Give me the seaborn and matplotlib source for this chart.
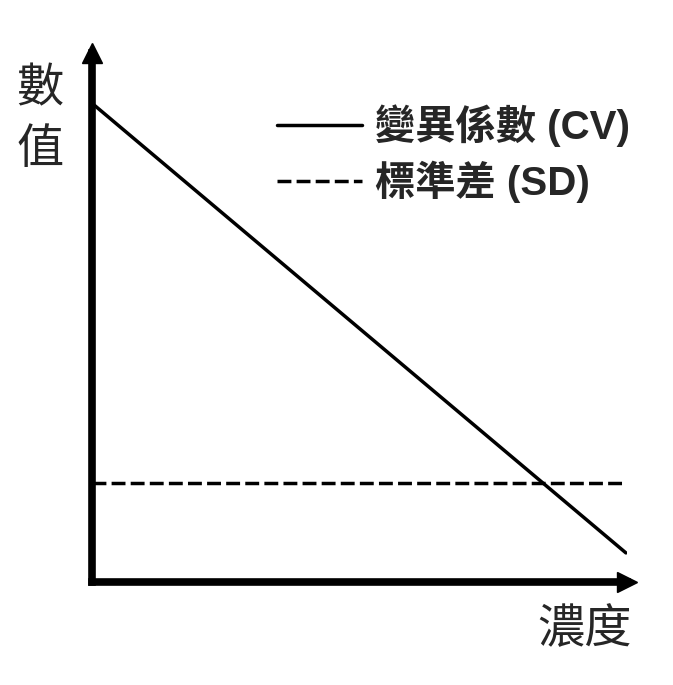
import numpy as np
import pandas as pd
import seaborn as sns
import matplotlib.pyplot as plt

# 資料
concentration = [0.0, 9.98]
cv_values = [9.05, 0.55]
sd_values = [1.87, 1.87]
series_names = ["變異係數 (CV)", "標準差 (SD)"]
x_label = "濃度"
y_label = "數值"

sns.set_theme(style="white")
plt.rcParams['font.family'] = ['Liberation Sans', 'Noto Sans CJK TC', 'DejaVu Sans']

df = pd.DataFrame({
    "conc": concentration * 2,
    "value": cv_values + sd_values,
    "series": [series_names[0]] * 2 + [series_names[1]] * 2,
})

fig = plt.figure(figsize=(6.73, 6.85), dpi=100)
ax = fig.add_axes([92 / 673, (685 - 582) / 685, (627 - 92) / 673, (582 - 53) / 685])

sns.lineplot(data=df, x="conc", y="value", hue="series", style="series",
             palette=["black", "black"], dashes=[(), (4.0, 1.5)], linewidth=2.5, ax=ax)

ax.set_xlim(0, 10)
ax.set_ylim(0, 10)
ax.set_xticks([])
ax.set_yticks([])
ax.set_xlabel("")
ax.set_ylabel("")
for s in ["top", "right"]:
    ax.spines[s].set_visible(False)
for s in ["left", "bottom"]:
    ax.spines[s].set_color("black")
    ax.spines[s].set_linewidth(5.5)
    ax.spines[s].set_capstyle("projecting")

# 箭頭
ax.plot(1, 0, ">", color="black", markersize=15, transform=ax.transAxes, clip_on=False)
ax.plot(0, 1, "^", color="black", markersize=15, transform=ax.transAxes, clip_on=False)

fig.text(40 / 673, 1 - 90 / 685, y_label[0], fontsize=34, ha="center", va="center")
fig.text(40 / 673, 1 - 151 / 685, y_label[1], fontsize=34, ha="center", va="center")
fig.text(585 / 673, 1 - 631 / 685, x_label, fontsize=34, ha="center", va="center")

leg = ax.legend(loc="upper left", bbox_to_anchor=(277 / 673, 1 - 104 / 685),
                bbox_transform=fig.transFigure, frameon=False,
                prop={"size": 29, "weight": "bold"}, handlelength=2.1,
                handletextpad=0.33, labelspacing=0.34, borderaxespad=0, borderpad=0)
for line in leg.get_lines():
    line.set_linewidth(2.5)

fig.savefig("out.png", dpi=100)
